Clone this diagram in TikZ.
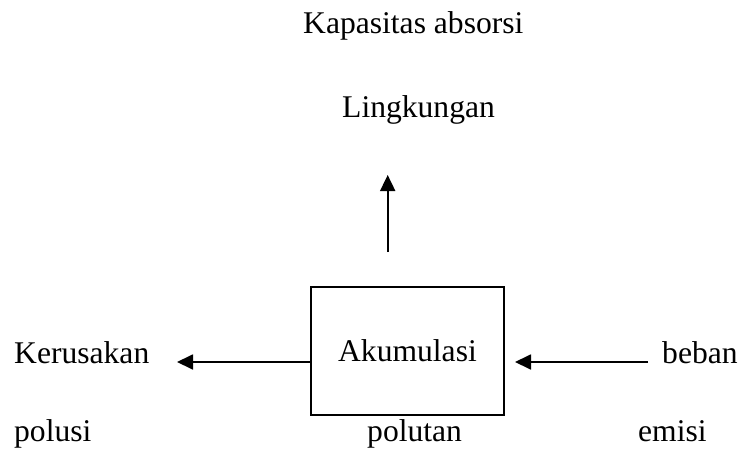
\documentclass[tikz,border=0pt]{standalone}
\usepackage{fontspec}
\setmainfont{Liberation Serif}
\usetikzlibrary{arrows.meta}

\begin{document}
\begin{tikzpicture}[x=1pt,y=-1pt,font=\fontsize{31.6}{38}\selectfont,
	teks/.style={inner sep=0pt,anchor=base west},
	panah/.style={line width=1.8pt,-{Triangle[length=16pt,width=15pt]}}]
	\useasboundingbox (0,0) rectangle (740,450);
	\node[teks] (kapasitas) at (303,33) {Kapasitas absorsi};
	\node[teks] (lingkungan) at (342,117) {Lingkungan};
	\node[teks] (kerusakan) at (14,363) {Kerusakan};
	\node[teks] (beban) at (662,363) {beban};
	\node[teks] (polusi) at (14,441) {polusi};
	\node[teks] (polutan) at (367,441) {polutan};
	\node[teks] (emisi) at (638,441) {emisi};
	\node[draw,line width=1.5pt,minimum width=193pt,minimum height=128pt,inner sep=0pt] (akumulasi) at (407.5,351) {Akumulasi};
	\coordinate (naik1) at (387.7,252);
	\coordinate (naik2) at (387.7,175);
	\coordinate (kiri) at (177,362);
	\coordinate (kanan1) at (648,362);
	\coordinate (kanan2) at (515,362);
	\draw[panah] (naik1)--(naik2);
	\draw[panah] (akumulasi.west |- kiri)--(kiri);
	\draw[panah] (kanan1)--(kanan2);
\end{tikzpicture}
\end{document}
